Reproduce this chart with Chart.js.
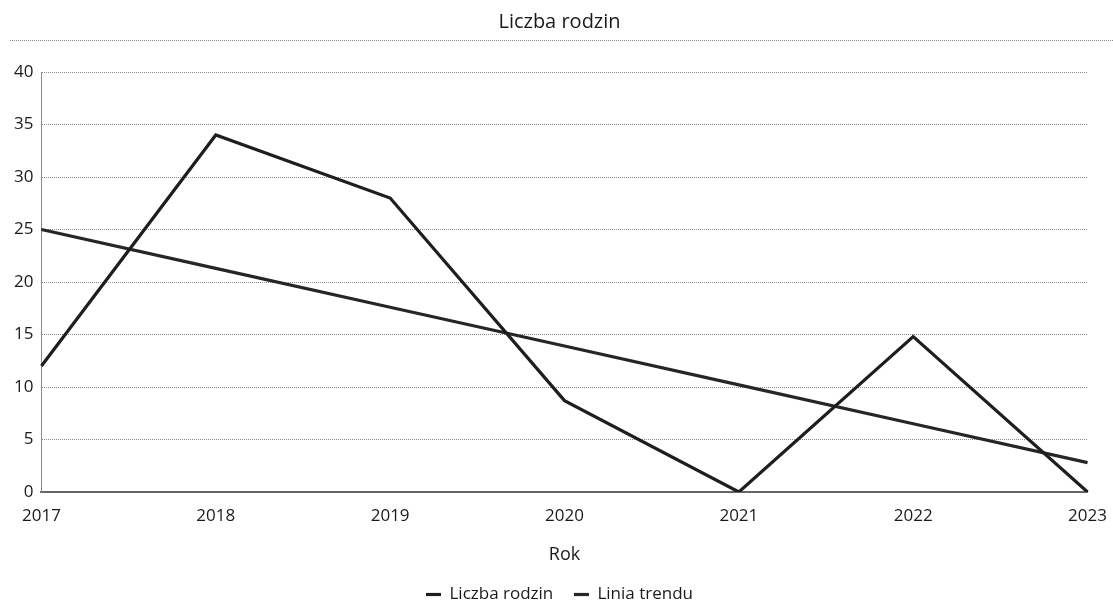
<!DOCTYPE html>
<html lang="pl">
  <head>
    <meta charset="UTF-8" />
    <title>Liczba rodzin</title>
    <script src="https://cdn.jsdelivr.net/npm/chart.js"></script>
    <style>
      body { margin: 0; background: #fff; }
      .chart-box { width: 1113px; height: 605px; }
    </style>
  </head>
  <body>
    <div class="chart-box"><canvas id="chart"></canvas></div>
    <script>
      const years = ["2017", "2018", "2019", "2020", "2021", "2022", "2023"];
      const families = [12, 34, 28, 8.7, 0, 14.8, 0];
      const trend = [25, 21.3, 17.6, 13.9, 10.2, 6.5, 2.8];
      const yTicks = [0, 5, 10, 15, 20, 25, 30, 35, 40];

      // thin grey rule under the title
      const titleRule = {
        id: "titleRule",
        afterDraw(chart) {
          const ctx = chart.ctx;
          const y = chart.titleBlock.top + 36.5;
          ctx.save();
          ctx.strokeStyle = "#8a8a8a";
          ctx.lineWidth = 1;
          ctx.setLineDash([1, 1]);
          ctx.beginPath();
          ctx.moveTo(10, y);
          ctx.lineTo(chart.width, y);
          ctx.stroke();
          ctx.restore();
        },
      };

      Chart.defaults.font.family = "'Open Sans', sans-serif";
      Chart.defaults.color = "#1a1a1a";

      new Chart(document.getElementById("chart"), {
        type: "line",
        data: {
          labels: years,
          datasets: [
            {
              label: "Liczba rodzin",
              data: families,
              borderColor: "#1e1e1e",
              backgroundColor: "#1e1e1e",
              borderWidth: 3.2,
              pointRadius: 0,
              tension: 0,
            },
            {
              label: "Linia trendu",
              data: trend,
              borderColor: "#262626",
              backgroundColor: "#262626",
              borderWidth: 3.2,
              pointRadius: 0,
              tension: 0,
            },
          ],
        },
        options: {
          responsive: true,
          maintainAspectRatio: false,
          animation: false,
          layout: { padding: { left: 6, right: 0, top: 4, bottom: -8 } },
          plugins: {
            title: {
              display: true,
              text: "Liczba rodzin",
              font: { size: 20, weight: "normal" },
              padding: { top: 6, bottom: 38 },
            },
            legend: {
              position: "bottom",
              labels: {
                usePointStyle: true,
                pointStyle: "line",
                pointStyleWidth: 15,
                boxHeight: 3,
                font: { size: 17 },
                padding: 3,
                generateLabels(chart) {
                  const items = Chart.defaults.plugins.legend.labels.generateLabels(chart);
                  items.forEach((it, i) => {
                    if (i < items.length - 1) it.text += "    ";
                  });
                  return items;
                },
              },
            },
            tooltip: { enabled: false },
          },
          scales: {
            x: {
              offset: false,
              grid: { display: false },
              border: { display: true, color: "#666", width: 2 },
              ticks: { font: { size: 17 }, maxRotation: 0, padding: 6 },
              title: {
                display: true,
                text: "Rok",
                font: { size: 18 },
                padding: { top: 12, bottom: 17 },
              },
            },
            y: {
              min: 0,
              max: 40,
              afterBuildTicks(axis) {
                axis.ticks = yTicks.map((v) => ({ value: v }));
              },
              grid: {
                color: "#8a8a8a",
                lineWidth: 1,
                drawTicks: false,
              },
              border: { display: true, color: "#888", width: 1, dash: [1, 1] },
              ticks: { font: { size: 17 }, padding: 8 },
            },
          },
        },
        plugins: [titleRule],
      });
    </script>
  </body>
</html>
